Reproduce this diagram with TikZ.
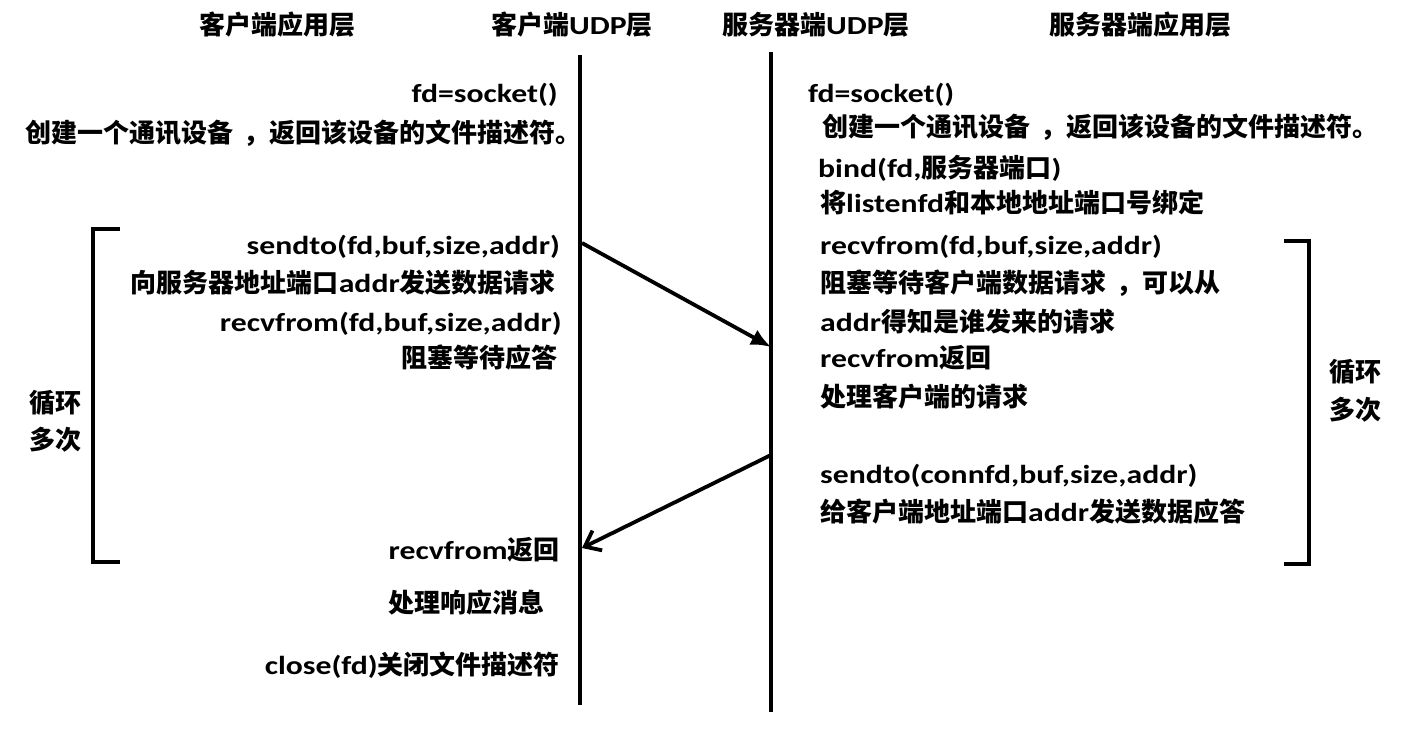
\documentclass[tikz,border=0pt]{standalone}
\usepackage{fontspec}
\setmainfont{Carlito}[FakeStretch=1.22]
\newfontfamily\zhfont{Noto Sans CJK SC}
\newcommand\zhs[1]{{\zhfont #1}}
\newcommand\zcomma{\hspace{10pt}，}
\usetikzlibrary{arrows.meta}
\begin{document}
\begin{tikzpicture}[x=1pt,y=-1pt,
  every node/.style={font=\fontsize{26}{30}\selectfont\bfseries, inner sep=0pt, text=black},
  lt/.style={anchor=base east},
  rt/.style={anchor=base west},
  ct/.style={anchor=base},
  lifeline/.style={line width=4pt},
  msg/.style={line width=3.8pt},
  brk/.style={line width=4pt}]
\useasboundingbox (0,0) rectangle (1406,740);
% headers
\node[ct] (h1) at (277,34) {\zhs{客户端应用层}};
\node[ct] (h2) at (572,34) {\zhs{客户端}UDP\zhs{层}};
\node[ct] (h3) at (816,34) {\zhs{服务器端}UDP\zhs{层}};
\node[ct] (h4) at (1140,34) {\zhs{服务器端应用层}};
% lifelines
\coordinate (ctop) at (580,55);
\coordinate (cbot) at (580,705);
\coordinate (stop) at (771,52);
\coordinate (sbot) at (771,712);
\draw[lifeline] (ctop) -- (cbot);
\draw[lifeline] (stop) -- (sbot);
% left texts
\node[lt] (l1) at (558,102) {fd=socket()};
\node[anchor=base west] (l2) at (25,142) {\zhs{创建一个通讯设备\zcomma 返回该设备的文件描述符。}};
\node[lt] (l3) at (560,254) {sendto(fd,buf,size,addr)};
\node[lt] (l4) at (556,292) {\zhs{向服务器地址端口}addr\zhs{发送数据请求}};
\node[lt] (l5) at (562,331) {recvfrom(fd,buf,size,addr)};
\node[lt] (l6) at (558,367) {\zhs{阻塞等待应答}};
\node[lt] (l7) at (560,559) {recvfrom\zhs{返回}};
\node[lt] (l8) at (545,612) {\zhs{处理响应消息}};
\node[lt] (l9) at (560,674) {close(fd)\zhs{关闭文件描述符}};
\node[ct] (lp1) at (55,412) {\zhs{循环}};
\node[ct] (lp2) at (55,449) {\zhs{多次}};
% right texts
\node[rt] (r1) at (808,102) {fd=socket()};
\node[rt] (r2) at (822,136) {\zhs{创建一个通讯设备\zcomma 返回该设备的文件描述符。}};
\node[rt] (r3) at (818,177) {bind(fd,\zhs{服务器端口})};
\node[rt] (r4) at (820,212) {\zhs{将}listenfd\zhs{和本地地址端口号绑定}};
\node[rt] (r5) at (820,254) {recvfrom(fd,buf,size,addr)};
\node[rt] (r6) at (820,292) {\zhs{阻塞等待客户端数据请求\zcomma 可以从}};
\node[rt] (r7) at (820,331) {addr\zhs{得知是谁发来的请求}};
\node[rt] (r8) at (820,367) {recvfrom\zhs{返回}};
\node[rt] (r9) at (820,406) {\zhs{处理客户端的请求}};
\node[rt] (r10) at (820,483) {sendto(connfd,buf,size,addr)};
\node[rt] (r11) at (820,521) {\zhs{给客户端地址端口}addr\zhs{发送数据应答}};
\node[ct] (rp1) at (1355,381) {\zhs{循环}};
\node[ct] (rp2) at (1355,419) {\zhs{多次}};
% brackets
\draw[brk] (120,229) -- (93,229) -- (93,562) -- (120,562);
\draw[brk] (1284,241) -- (1309,241) -- (1309,564) -- (1284,564);
% messages
\coordinate (m1s) at (582,243);
\coordinate (m1e) at (771,347);
\coordinate (m2s) at (771,455);
\coordinate (m2e) at (582,548);
\draw[msg,-{Latex[length=20pt,width=17pt]}] (m1s) -- (m1e);
\draw[msg,-{Straight Barb[length=14pt,width=22pt]}] (m2s) -- (m2e);
\end{tikzpicture}
\end{document}
